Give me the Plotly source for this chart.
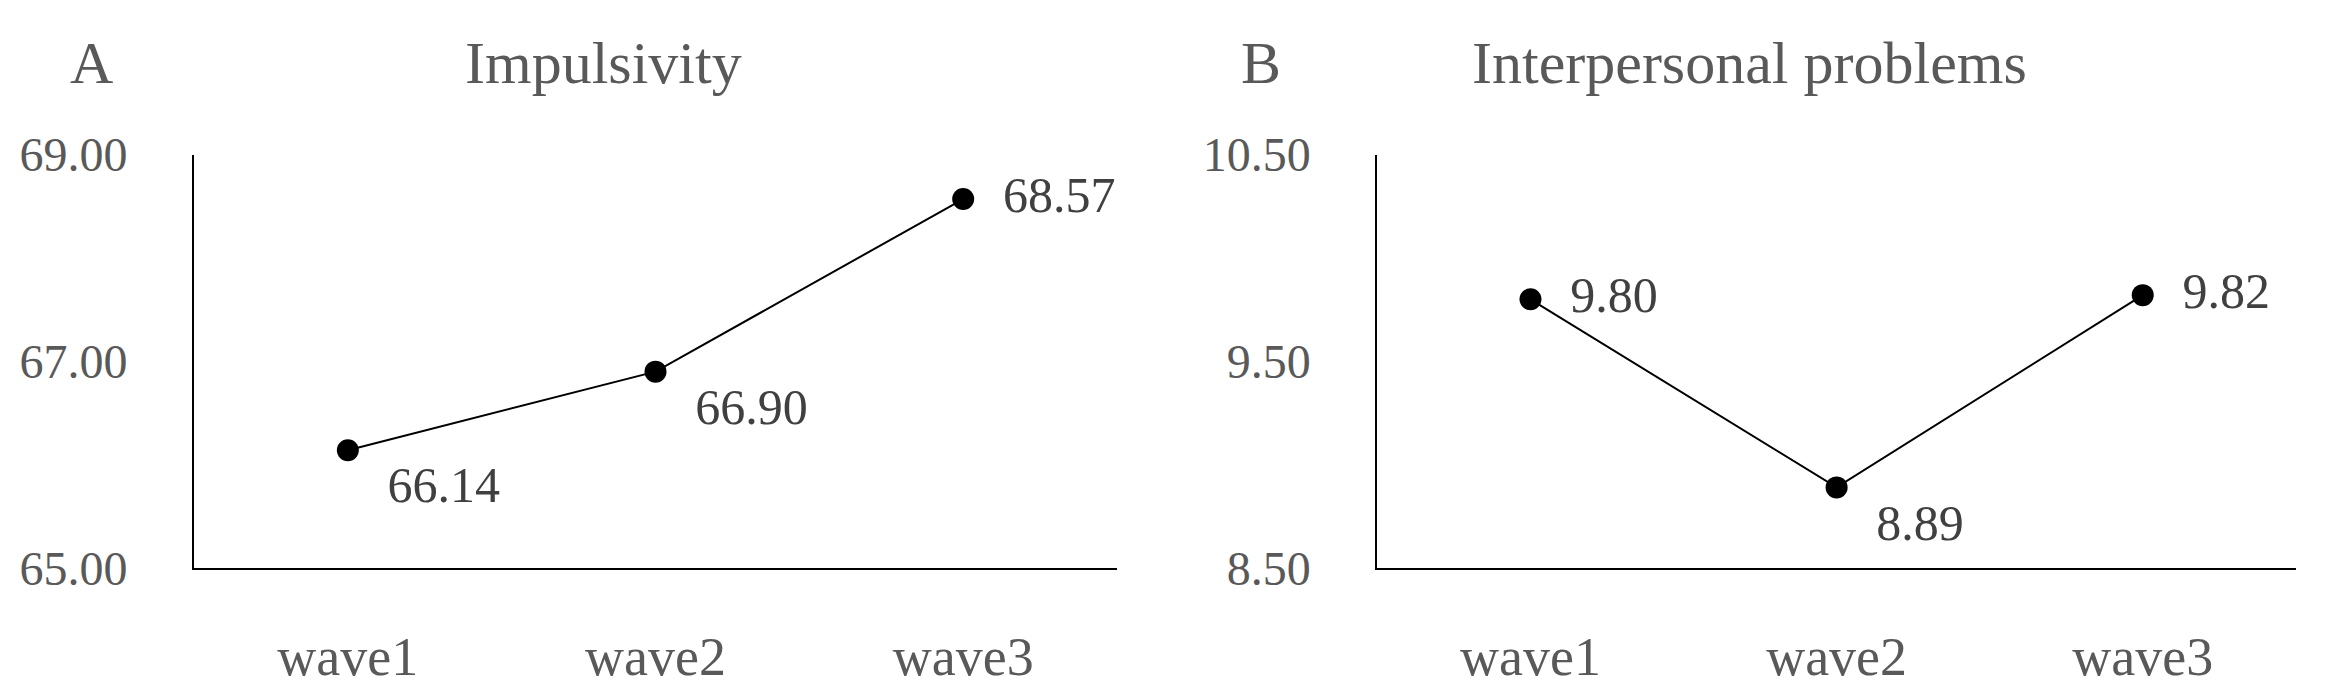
import plotly.graph_objects as go

waves = ["wave1", "wave2", "wave3"]
impulsivity = [66.14, 66.90, 68.57]
interpersonal = [9.80, 8.89, 9.82]
imp_pos = ["bottom right", "bottom right", "middle right"]
int_pos = ["middle right", "bottom right", "middle right"]

FONT = "Liberation Serif"
GRAY = "#595959"
fig = go.Figure()
for vals, pos, ax in [(impulsivity, imp_pos, ""), (interpersonal, int_pos, "2")]:
    fig.add_trace(go.Scatter(
        x=waves, y=vals, mode="lines+markers+text",
        text=[f"  {v:.2f}" for v in vals], textposition=pos,
        textfont=dict(family=FONT, size=50, color="#404040"),
        line=dict(color="black", width=2), marker=dict(color="black", size=22),
        xaxis="x" + ax, yaxis="y" + ax, showlegend=False, cliponaxis=False))

common_x = dict(showline=True, linecolor="black", linewidth=2, ticks="", range=[-0.5, 2.5],
                tickfont=dict(family=FONT, size=54, color=GRAY), showgrid=False,
                ticklabelstandoff=40)
common_y = dict(showline=True, linecolor="black", linewidth=2, ticks="", showgrid=False, zeroline=False,
                tickformat=".2f", tickfont=dict(family=FONT, size=48, color=GRAY),
                ticklabelstandoff=55)
YD = [0.163, 0.811]
fig.update_layout(
    width=2325, height=691, margin=dict(l=0, r=0, t=0, b=0),
    plot_bgcolor="white", paper_bgcolor="white",
    xaxis=dict(domain=[0.080, 0.477], anchor="y", **common_x),
    yaxis=dict(domain=YD, anchor="x", range=[65, 69], tickvals=[65, 67, 69], **common_y),
    xaxis2=dict(domain=[0.589, 0.984], anchor="y2", **common_x),
    yaxis2=dict(domain=YD, anchor="x2", range=[8.5, 10.5], tickvals=[8.5, 9.5, 10.5], **common_y),
    annotations=[
        dict(text=t, x=x, y=0.955, xref="paper", yref="paper", showarrow=False,
             xanchor="center", yanchor="middle",
             font=dict(family=FONT, size=60, color=GRAY))
        for t, x in [("Impulsivity", 0.256), ("Interpersonal problems", 0.749), ("A", 0.036), ("B", 0.539)]
    ])
fig.write_html("out.html")
